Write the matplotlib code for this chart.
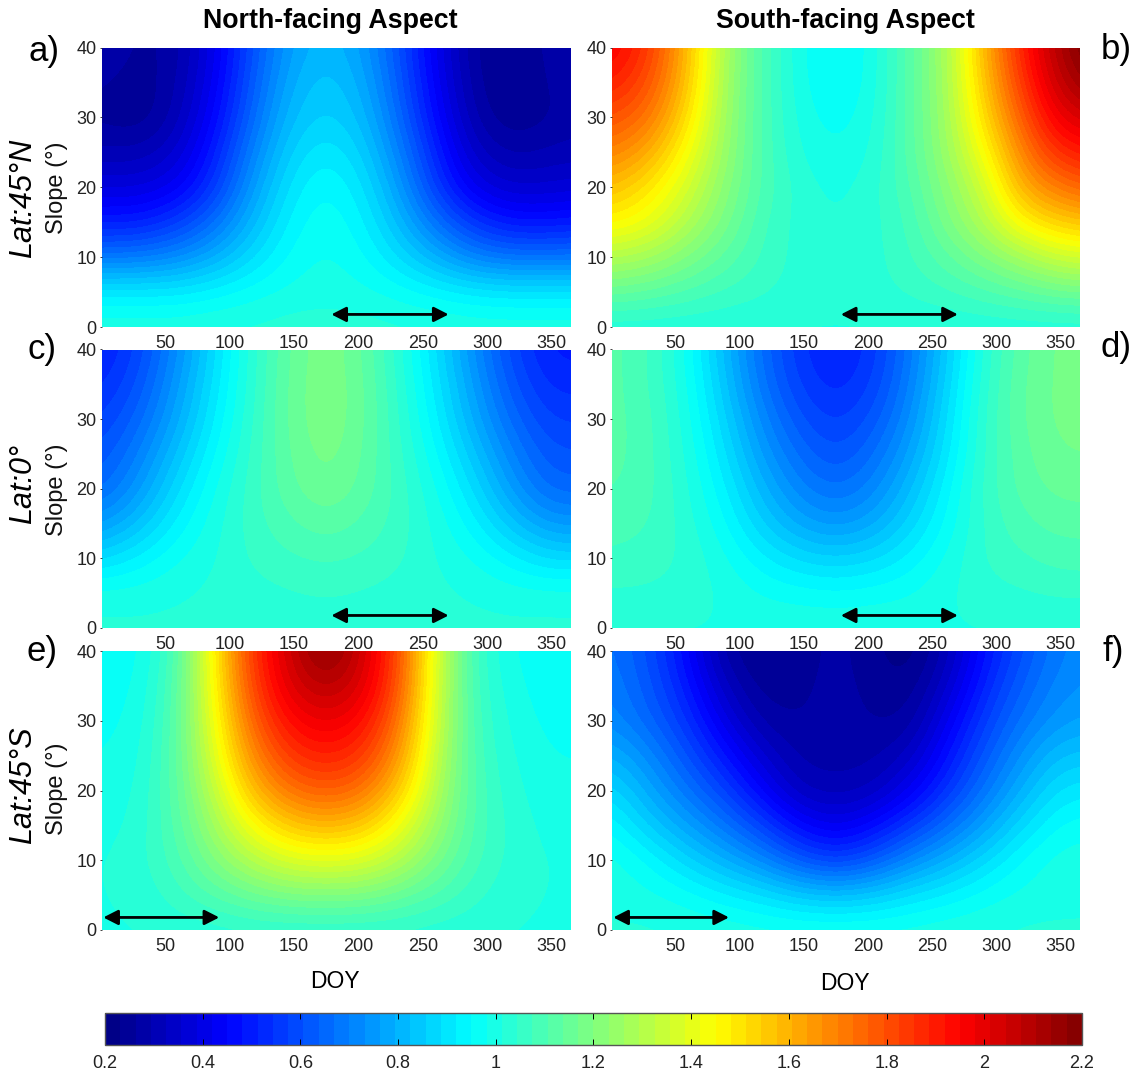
import numpy as np
import matplotlib
matplotlib.use('Agg')
import matplotlib.pyplot as plt
from matplotlib.colors import ListedColormap

plt.rcParams['font.family'] = ['Liberation Sans', 'DejaVu Sans']

# grid the values were read on
doy = [1, 30, 59, 88, 117, 146, 175, 204, 233, 262, 291, 320, 349, 378]
slope = [40, 35, 30, 25, 20, 15, 10, 5, 0]

north_45n = [
    [.30, .25, .27, .40, .60, .76, .82, .76, .60, .40, .25, .22, .28, .30],
    [.27, .24, .28, .42, .62, .79, .85, .79, .62, .42, .26, .22, .27, .29],
    [.25, .23, .30, .45, .65, .82, .87, .82, .65, .45, .28, .23, .26, .28],
    [.30, .30, .35, .50, .70, .86, .92, .86, .70, .50, .33, .28, .30, .31],
    [.38, .38, .42, .55, .75, .90, .96, .90, .75, .55, .40, .35, .36, .37],
    [.50, .50, .56, .66, .81, .93, .98, .93, .81, .66, .54, .48, .48, .50],
    [.68, .69, .72, .79, .88, .96, .99, .96, .88, .79, .70, .67, .67, .68],
    [.92, .92, .92, .94, .97, .99, 1.0, .99, .97, .94, .92, .91, .91, .91],
    [1.01, 1.01, 1.01, 1.02, 1.02, 1.03, 1.03, 1.03, 1.02, 1.02, 1.01, 1.01, 1.01, 1.01],
]
south_45n = [
    [1.97, 1.85, 1.60, 1.28, 1.10, .99, .93, .99, 1.12, 1.27, 1.60, 1.90, 2.12, 2.25],
    [1.90, 1.80, 1.58, 1.27, 1.10, .99, .94, .99, 1.12, 1.27, 1.57, 1.85, 2.08, 2.18],
    [1.80, 1.73, 1.52, 1.26, 1.10, 1.0, .96, 1.0, 1.12, 1.26, 1.52, 1.78, 2.0, 2.05],
    [1.70, 1.62, 1.44, 1.25, 1.10, 1.01, .98, 1.01, 1.12, 1.25, 1.44, 1.70, 1.88, 1.92],
    [1.58, 1.50, 1.37, 1.22, 1.10, 1.03, 1.0, 1.03, 1.10, 1.22, 1.35, 1.62, 1.72, 1.78],
    [1.47, 1.42, 1.30, 1.19, 1.08, 1.03, 1.01, 1.03, 1.08, 1.19, 1.30, 1.47, 1.55, 1.58],
    [1.30, 1.27, 1.20, 1.13, 1.07, 1.03, 1.02, 1.03, 1.07, 1.13, 1.20, 1.27, 1.35, 1.37],
    [1.15, 1.13, 1.10, 1.07, 1.05, 1.03, 1.02, 1.03, 1.05, 1.07, 1.10, 1.13, 1.16, 1.17],
    [1.01, 1.01, 1.01, 1.01, 1.01, 1.01, 1.01, 1.01, 1.01, 1.01, 1.01, 1.01, 1.01, 1.01],
]
north_0 = [
    [.50, .58, .72, .88, 1.03, 1.14, 1.20, 1.14, 1.02, .88, .72, .58, .50, .50],
    [.53, .61, .75, .90, 1.03, 1.15, 1.20, 1.15, 1.03, .90, .75, .61, .53, .53],
    [.57, .65, .78, .92, 1.04, 1.15, 1.20, 1.15, 1.04, .92, .78, .65, .57, .57],
    [.61, .70, .83, .95, 1.05, 1.14, 1.19, 1.14, 1.05, .95, .83, .70, .61, .61],
    [.65, .75, .88, .98, 1.06, 1.13, 1.17, 1.13, 1.06, .98, .88, .75, .65, .65],
    [.75, .83, .93, 1.0, 1.06, 1.10, 1.13, 1.10, 1.06, 1.0, .93, .83, .75, .75],
    [.88, .93, .98, 1.01, 1.05, 1.07, 1.08, 1.07, 1.05, 1.01, .98, .93, .88, .88],
    [1.0, 1.0, 1.01, 1.02, 1.03, 1.04, 1.05, 1.04, 1.03, 1.02, 1.01, 1.0, 1.0, 1.0],
    [1.02, 1.02, 1.02, 1.02, 1.02, 1.02, 1.02, 1.02, 1.02, 1.02, 1.02, 1.02, 1.02, 1.02],
]
south_0 = [
    [1.12, 1.08, .98, .82, .66, .55, .50, .55, .68, .85, 1.03, 1.13, 1.18, 1.18],
    [1.12, 1.08, .99, .84, .68, .57, .52, .57, .70, .87, 1.04, 1.14, 1.18, 1.18],
    [1.12, 1.09, 1.0, .87, .72, .61, .56, .61, .73, .89, 1.05, 1.14, 1.18, 1.18],
    [1.12, 1.09, 1.01, .90, .76, .66, .60, .66, .77, .91, 1.05, 1.13, 1.17, 1.17],
    [1.11, 1.09, 1.02, .93, .81, .71, .66, .71, .82, .94, 1.06, 1.12, 1.15, 1.15],
    [1.09, 1.08, 1.03, .96, .86, .78, .74, .78, .87, .96, 1.05, 1.10, 1.12, 1.12],
    [1.07, 1.06, 1.04, .99, .93, .88, .86, .88, .93, .99, 1.05, 1.07, 1.09, 1.09],
    [1.04, 1.04, 1.03, 1.01, .98, .97, .96, .97, .98, 1.01, 1.03, 1.04, 1.05, 1.05],
    [1.01, 1.01, 1.01, 1.01, 1.01, 1.01, 1.01, 1.01, 1.01, 1.01, 1.01, 1.01, 1.01, 1.01],
]
north_45s = [
    [.95, .97, 1.08, 1.47, 1.85, 2.05, 2.20, 2.05, 1.80, 1.35, 1.05, .98, .95, .95],
    [.96, .98, 1.10, 1.45, 1.82, 2.02, 2.10, 2.02, 1.78, 1.34, 1.06, .99, .96, .96],
    [.97, .99, 1.11, 1.42, 1.76, 1.94, 2.0, 1.94, 1.72, 1.33, 1.07, 1.0, .97, .97],
    [.98, 1.0, 1.12, 1.38, 1.68, 1.85, 1.90, 1.85, 1.65, 1.31, 1.08, 1.01, .98, .98],
    [.99, 1.01, 1.12, 1.32, 1.58, 1.73, 1.78, 1.73, 1.55, 1.28, 1.09, 1.02, .99, .99],
    [1.0, 1.02, 1.11, 1.26, 1.44, 1.56, 1.60, 1.56, 1.42, 1.24, 1.09, 1.03, 1.0, 1.0],
    [1.01, 1.03, 1.09, 1.20, 1.30, 1.38, 1.40, 1.38, 1.30, 1.18, 1.08, 1.03, 1.01, 1.01],
    [1.01, 1.02, 1.06, 1.11, 1.16, 1.19, 1.20, 1.19, 1.15, 1.10, 1.05, 1.02, 1.01, 1.01],
    [1.01, 1.01, 1.02, 1.02, 1.03, 1.03, 1.03, 1.03, 1.03, 1.02, 1.02, 1.01, 1.01, 1.01],
]
south_45s = [
    [.68, .60, .46, .27, .22, .24, .28, .24, .20, .30, .48, .60, .70, .72],
    [.70, .62, .50, .33, .24, .25, .28, .25, .23, .35, .52, .64, .72, .74],
    [.72, .65, .55, .40, .28, .26, .28, .26, .26, .42, .57, .68, .75, .77],
    [.80, .72, .61, .49, .36, .28, .28, .28, .33, .48, .62, .74, .83, .84],
    [.88, .78, .68, .58, .45, .32, .30, .32, .42, .55, .68, .80, .90, .91],
    [.95, .85, .77, .68, .58, .46, .40, .46, .56, .66, .77, .88, .96, .97],
    [1.0, .95, .87, .80, .72, .62, .56, .62, .72, .80, .88, .96, 1.0, 1.0],
    [1.0, .99, .97, .93, .90, .85, .83, .85, .90, .93, .97, .99, 1.0, 1.0],
    [1.02, 1.02, 1.01, 1.01, 1.0, 1.0, 1.0, 1.0, 1.0, 1.01, 1.01, 1.02, 1.02, 1.02],
]

panels = [north_45n, south_45n, north_0, south_0, north_45s, south_45s]
panel_names = ['a)', 'b)', 'c)', 'd)', 'e)', 'f)']
arrow_doy = [(179, 270), (179, 270), (179, 270), (179, 270), (2, 92), (2, 92)]
lat_labels = ['Lat:45°N', 'Lat:0°', 'Lat:45°S']
x_ticks = [50, 100, 150, 200, 250, 300, 350]
y_ticks = [0, 10, 20, 30, 40]
cbar_ticks = [0.2, 0.4, 0.6, 0.8, 1, 1.2, 1.4, 1.6, 1.8, 2, 2.2]
cbar_labels = ['0.2', '0.4', '0.6', '0.8', '1', '1.2', '1.4', '1.6', '1.8', '2', '2.2']

W, H = 1137, 1074
fig = plt.figure(figsize=(W / 100, H / 100), dpi=100)


def px_axes(x0, y0, x1, y1):
    return fig.add_axes([x0 / W, 1 - y1 / H, (x1 - x0) / W, (y1 - y0) / H])


def px_text(x, y, s, **kw):
    fig.text(x / W, 1 - y / H, s, ha='center', va='center', **kw)


# same 64 steps as the matlab jet, mpl's own jet puts cyan a bit lower
t = (np.arange(64) + 0.5) / 64
jet64 = ListedColormap(np.clip(np.column_stack([
    np.minimum(4 * t - 1.5, -4 * t + 4.5),
    np.minimum(4 * t - 0.5, -4 * t + 3.5),
    np.minimum(4 * t + 0.5, -4 * t + 2.5)]), 0, 1))

lefts = [(102, 571), (612, 1080)]
rows = [(47.5, 327), (349.5, 628), (651, 930)]
dx = (doy[1] - doy[0]) / 2
dy = (slope[0] - slope[1]) / 2

for i, vals in enumerate(panels):
    x0, x1 = lefts[i % 2]
    y0, y1 = rows[i // 2]
    ax = px_axes(x0, y0, x1, y1)
    ax.set_zorder(10 - i)  # tick labels sit over the panel below
    im = ax.imshow(vals, cmap=jet64, vmin=0.2, vmax=2.2, aspect='auto',
                   interpolation='bicubic', interpolation_stage='data',
                   extent=(doy[0] - dx, doy[-1] + dx, slope[-1] - dy, slope[0] + dy))
    ax.set_xlim(1, 365)
    ax.set_ylim(0, 40)
    ax.set_xticks(x_ticks)
    ax.set_yticks(y_ticks)
    ax.tick_params(axis='x', length=0, pad=5.5, labelsize=13, colors='#222222')
    ax.tick_params(axis='y', length=1.5, width=0.6, pad=2.5, labelsize=13, colors='#222222')
    for s in ax.spines.values():
        s.set_visible(False)
    ax.annotate('', xy=(arrow_doy[i][0], 1.8), xytext=(arrow_doy[i][1], 1.8),
                arrowprops=dict(arrowstyle='<|-|>,head_length=0.55,head_width=0.28', color='k',
                                lw=2, mutation_scale=16, shrinkA=0, shrinkB=0))

# column headings
px_text(330, 21, 'North-facing Aspect', fontsize=19.3, fontweight='bold')
px_text(845, 21, 'South-facing Aspect', fontsize=19.3, fontweight='bold')

# panel letters
px_text(44, 52, panel_names[0], fontsize=25)
px_text(1116, 50, panel_names[1], fontsize=25)
px_text(42, 349, panel_names[2], fontsize=25)
px_text(1116, 348, panel_names[3], fontsize=25)
px_text(42, 652, panel_names[4], fontsize=25)
px_text(1113, 652, panel_names[5], fontsize=25)

# row labels
for lab, yc, ys in zip(lat_labels, [198, 484, 785], [188, 490, 789]):
    px_text(23, yc, lab, fontsize=22, fontstyle='italic', rotation=90)
    px_text(57, ys, 'Slope (°)', fontsize=17, rotation=90, color='#111111')

px_text(335, 981, 'DOY', fontsize=16.5)
px_text(845, 984, 'DOY', fontsize=16.5)

# colorbar
cax = px_axes(105, 1013, 1082, 1045)
cb = fig.colorbar(im, cax=cax, orientation='horizontal')
cb.set_ticks(cbar_ticks)
cb.set_ticklabels(cbar_labels)
cax.tick_params(axis='x', direction='in', length=4, width=0.7, top=True, bottom=True,
                pad=7, labelsize=13, color='k', labelcolor='#222222')
cb.outline.set_edgecolor('#555555')
cb.outline.set_linewidth(1)

fig.savefig('out.png', dpi=100)
